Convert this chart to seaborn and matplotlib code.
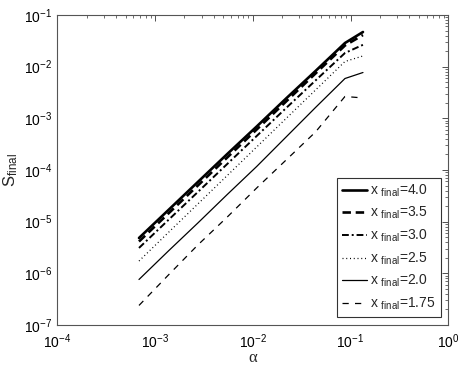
import matplotlib
matplotlib.use("Agg")
import matplotlib.pyplot as plt
import seaborn as sns
import pandas as pd
import numpy as np

alpha = [0.000685, 0.00137, 0.00274, 0.00548, 0.01096, 0.0219, 0.0438, 0.0877, 0.134]

s_40 = [4.83e-6, 1.68e-5, 5.86e-5, 2.04e-4, 6.95e-4, 2.42e-3, 8.24e-3, 0.0287, 0.0469]
s_35 = [4.13e-6, 1.44e-5, 5.01e-5, 1.75e-4, 6.08e-4, 2.12e-3, 7.38e-3, 0.0257, 0.0410]
s_30 = [3.10e-6, 1.08e-5, 3.75e-5, 1.31e-4, 4.55e-4, 1.58e-3, 5.40e-3, 0.0184, 0.0265]
s_25 = [1.73e-6, 6.18e-6, 2.20e-5, 7.83e-5, 2.79e-4, 9.93e-4, 3.53e-3, 0.0126, 0.0161]
s_20 = [7.60e-7, 2.71e-6, 9.42e-6, 3.36e-5, 1.17e-4, 4.35e-4, 1.62e-3, 5.90e-3, 7.71e-3]
s_175 = [2.39e-7, 9.29e-7, 3.54e-6, 1.23e-5, 4.49e-5, 1.56e-4, 5.44e-4, 2.65e-3, 2.48e-3]

labels = ["4.0", "3.5", "3.0", "2.5", "2.0", "1.75"]
series = [s_40, s_35, s_30, s_25, s_20, s_175]

styles = [
    dict(linestyle="-", linewidth=1.9),
    dict(linestyle=(0, (3.2, 1.8)), linewidth=1.9),
    dict(linestyle=(0, (3.5, 1.5, 1, 1.5)), linewidth=1.4),
    dict(linestyle=(0, (0.8, 2.2)), linewidth=0.9),
    dict(linestyle="-", linewidth=0.9),
    dict(linestyle=(0, (5, 5)), linewidth=0.9),
]

sns.set_style("white")
plt.rcParams["font.family"] = ["Liberation Sans", "DejaVu Sans"]
plt.rcParams["mathtext.fontset"] = "custom"
plt.rcParams["mathtext.rm"] = "Liberation Sans"
plt.rcParams["mathtext.it"] = "Liberation Sans"

fig = plt.figure(figsize=(4.63, 3.65), dpi=100)
ax = fig.add_axes([57.3 / 463, 1 - 325 / 365, (448.3 - 57.3) / 463, 310 / 365])

for lab, s, st in zip(labels, series, styles):
    df = pd.DataFrame({"alpha": alpha, "S": s})
    sns.lineplot(data=df, x="alpha", y="S", ax=ax, color="black",
                 label=r"x $_{\rm final}$=" + lab, **st)

ax.set_xscale("log")
ax.set_yscale("log")
ax.set_xlim(1e-4, 1)
ax.set_ylim(1e-7, 1e-1)
ax.set_xticks([1e-4, 1e-3, 1e-2, 1e-1, 1])
ax.set_yticks([1e-7, 1e-6, 1e-5, 1e-4, 1e-3, 1e-2, 1e-1])

ax.tick_params(which="both", direction="in", top=True, right=True, labelsize=10, colors="#333333")
ax.tick_params(which="major", length=4, width=0.6)
ax.tick_params(which="minor", length=2, width=0.5)
ax.tick_params(axis="both", labelcolor="black")
ax.tick_params(axis="x", which="major", pad=5.5)
for sp in ax.spines.values():
    sp.set_color("#555555")
    sp.set_linewidth(0.8)

ax.set_xlabel("α", fontsize=12, family=["Liberation Serif", "DejaVu Serif"], labelpad=-1)
ax.set_ylabel(r"S$_{\rm final}$", fontsize=12, labelpad=3)

leg = ax.legend(loc="lower right", bbox_to_anchor=(0.981, 0.026), borderaxespad=0,
                fancybox=False, frameon=True, fontsize=10, handlelength=1.8,
                handletextpad=0.25, labelspacing=0.45, borderpad=0.35)
leg.get_frame().set_edgecolor("black")
leg.get_frame().set_linewidth(0.8)

fig.savefig("out.png", dpi=100)
